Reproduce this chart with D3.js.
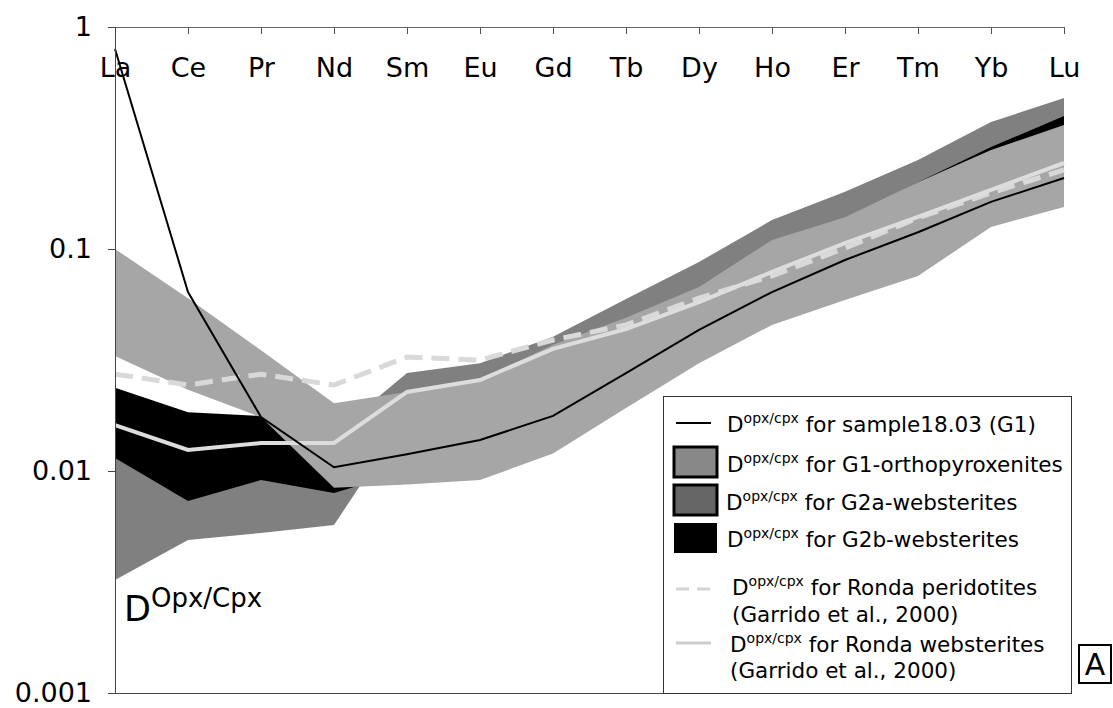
<!DOCTYPE html>
<html>
<head>
<meta charset="utf-8">
<script src="https://cdn.jsdelivr.net/npm/d3@7"></script>
<style>
  body { margin: 0; background: #fff; }
  svg { display: block; font-family: "DejaVu Sans", Verdana, sans-serif; }
</style>
</head>
<body>
<div id="chart"></div>
<script>
// REE categories (top axis)
const elements = ["La", "Ce", "Pr", "Nd", "Sm", "Eu", "Gd", "Tb", "Dy", "Ho", "Er", "Tm", "Yb", "Lu"];
const yTicks = [1, 0.1, 0.01, 0.001];

// D opx/cpx for sample 18.03 (G1)
const sample1803 = [0.796, 0.064, 0.0175, 0.0104, 0.0119, 0.0138, 0.0177, 0.0276, 0.0432, 0.064, 0.0892, 0.119, 0.163, 0.209];

// G1-orthopyroxenites range
const g1Upper = [0.1, 0.060, 0.035, 0.0202, 0.0227, 0.0257, 0.037, 0.049, 0.0675, 0.1098, 0.139, 0.200, 0.279, 0.362];
const g1Lower = [0.033, 0.0232, 0.0175, 0.0084, 0.0087, 0.0091, 0.012, 0.0192, 0.0306, 0.0455, 0.0589, 0.0756, 0.1257, 0.1547];

// G2a-websterites range
const g2aUpper = [0.02, 0.015, 0.015, 0.0147, 0.0276, 0.0306, 0.0402, 0.0595, 0.0874, 0.135, 0.181, 0.252, 0.373, 0.479];
const g2aLower = [0.00323, 0.00489, 0.00526, 0.00571, 0.0179, 0.02, 0.025, 0.035, 0.05, 0.07, 0.09, 0.12, 0.18, 0.25];

// G2b-websterites range
const g2bUpper = [0.0237, 0.0184, 0.0177, 0.012, 0.016, 0.02, 0.03, 0.045, 0.065, 0.1, 0.135, 0.2, 0.288, 0.397];
const g2bLower = [0.01145, 0.00733, 0.0091, 0.00796, 0.01, 0.012, 0.016, 0.025, 0.04, 0.06, 0.08, 0.11, 0.16, 0.232];

// Garrido et al., 2000
const rondaPeridotites = [0.0273, 0.0244, 0.0273, 0.0244, 0.0326, 0.0316, 0.0389, 0.0455, 0.0601, 0.0756, 0.101, 0.138, 0.179, 0.227];
const rondaWebsterites = [0.0161, 0.01244, 0.01337, 0.01337, 0.0227, 0.0257, 0.0355, 0.0436, 0.0577, 0.0788, 0.1064, 0.1394, 0.1845, 0.244];

const width = 1113, height = 708;
const plotLeft = 115, plotRight = 1064, plotTop = 27, plotBottom = 693;

const svg = d3.select("#chart").append("svg")
  .attr("width", width)
  .attr("height", height);

const x = d3.scalePoint().domain(elements).range([plotLeft, plotRight]);
const y = d3.scaleLog().domain([0.001, 1]).range([plotBottom, plotTop]);

const rows = (upper, lower) => elements.map((el, i) => ({ el, hi: upper[i], lo: lower[i] }));
const pts = (vals) => elements.map((el, i) => ({ el, v: vals[i] }));

const area = d3.area()
  .x((d) => x(d.el))
  .y0((d) => y(d.lo))
  .y1((d) => y(d.hi));

const line = d3.line()
  .x((d) => x(d.el))
  .y((d) => y(d.v));

// bands (order matters: G2a under G2b under G1)
const bands = [
  { data: rows(g2aUpper, g2aLower), fill: "#808080" },
  { data: rows(g2bUpper, g2bLower), fill: "#000000" },
  { data: rows(g1Upper, g1Lower), fill: "#a6a6a6" }
];
svg.append("g").selectAll("path")
  .data(bands)
  .join("path")
  .attr("d", (d) => area(d.data))
  .attr("fill", (d) => d.fill);

// Ronda lines
svg.append("path")
  .attr("d", line(pts(rondaPeridotites)))
  .attr("fill", "none")
  .attr("stroke", "#d9d9d9")
  .attr("stroke-width", 5)
  .attr("stroke-dasharray", "18,9");

svg.append("path")
  .attr("d", line(pts(rondaWebsterites)))
  .attr("fill", "none")
  .attr("stroke", "#dddddd")
  .attr("stroke-width", 4);

// sample line
svg.append("path")
  .attr("d", line(pts(sample1803)))
  .attr("fill", "none")
  .attr("stroke", "#000")
  .attr("stroke-width", 2);

// top category axis (ticks point down into the plot)
const xAxis = svg.append("g")
  .attr("transform", `translate(0,${plotTop})`)
  .call(d3.axisBottom(x).tickSize(7).tickSizeOuter(0).tickPadding(24));
xAxis.select(".domain").remove();
xAxis.selectAll("line").attr("stroke", "#555");
xAxis.selectAll("text").attr("font-size", 27).attr("fill", "#000").attr("font-family", "DejaVu Sans");

svg.append("line")
  .attr("x1", plotLeft - 7).attr("x2", plotRight)
  .attr("y1", plotTop + 0.5).attr("y2", plotTop + 0.5)
  .attr("stroke", "#666");

// bottom line at 0.001
svg.append("line")
  .attr("x1", plotLeft - 7).attr("x2", plotRight)
  .attr("y1", plotBottom + 0.5).attr("y2", plotBottom + 0.5)
  .attr("stroke", "#444");

// log y axis
const yAxis = svg.append("g")
  .attr("transform", `translate(${plotLeft},0)`)
  .call(d3.axisLeft(y).tickValues(yTicks).tickFormat(d3.format("~g")).tickSize(7).tickSizeOuter(0).tickPadding(16));
yAxis.select(".domain").attr("stroke", "#444");
yAxis.selectAll("line").attr("stroke", "#444");
yAxis.selectAll("text").attr("font-size", 27).attr("fill", "#000").attr("font-family", "DejaVu Sans");

// D Opx/Cpx annotation
const ann = svg.append("text")
  .attr("x", 124).attr("y", 621)
  .attr("font-size", 35);
ann.append("tspan").text("D");
ann.append("tspan").attr("font-size", 26).attr("dy", -14).text("Opx/Cpx");

// legend
const lg = svg.append("g");
lg.append("rect")
  .attr("x", 663.5).attr("y", 396.5)
  .attr("width", 408).attr("height", 297)
  .attr("fill", "#fff")
  .attr("stroke", "#333");

const legendItems = [
  { kind: "line", stroke: "#000", w: 2, dash: null, y: 423, tx: 727, ty: [432], label: [" for sample18.03 (G1)"] },
  { kind: "rect", fill: "#888888", y: 447, tx: 727, ty: [472], label: [" for G1-orthopyroxenites"] },
  { kind: "rect", fill: "#666666", y: 485, tx: 726, ty: [510], label: [" for G2a-websterites"] },
  { kind: "rect", fill: "#000000", y: 523, tx: 727, ty: [547], label: [" for G2b-websterites"] },
  { kind: "line", stroke: "#d4d4d4", w: 3, dash: "13,8", y: 589, tx: 732, ty: [595, 622], label: [" for Ronda peridotites", "(Garrido et al., 2000)"] },
  { kind: "line", stroke: "#cccccc", w: 3, dash: null, y: 643, tx: 730, ty: [652, 678], label: [" for Ronda websterites", "(Garrido et al., 2000)"] }
];

legendItems.forEach((d) => {
  if (d.kind === "line") {
    lg.append("line")
      .attr("x1", 676).attr("x2", 711)
      .attr("y1", d.y).attr("y2", d.y)
      .attr("stroke", d.stroke)
      .attr("stroke-width", d.w)
      .attr("stroke-dasharray", d.dash);
  } else {
    lg.append("rect")
      .attr("x", 674).attr("y", d.y)
      .attr("width", 43).attr("height", 30)
      .attr("fill", d.fill)
      .attr("stroke", "#000")
      .attr("stroke-width", d.fill === "#000000" ? 0 : 3);
  }
  const t = lg.append("text")
    .attr("x", d.tx).attr("y", d.ty[0])
    .attr("font-size", 21.5);
  t.append("tspan").text("D");
  t.append("tspan").attr("font-size", 14).attr("dy", -9).text("opx/cpx");
  t.append("tspan").attr("dy", 9).text(d.label[0]);
  if (d.label[1]) {
    lg.append("text")
      .attr("x", d.tx).attr("y", d.ty[1])
      .attr("font-size", 21.5)
      .text(d.label[1]);
  }
});

// panel letter
svg.append("rect")
  .attr("x", 1079).attr("y", 645)
  .attr("width", 32).attr("height", 38)
  .attr("fill", "#fff")
  .attr("stroke", "#000")
  .attr("stroke-width", 2);
svg.append("text")
  .attr("x", 1095).attr("y", 675)
  .attr("text-anchor", "middle")
  .attr("font-size", 30)
  .text("A");
</script>
</body>
</html>
